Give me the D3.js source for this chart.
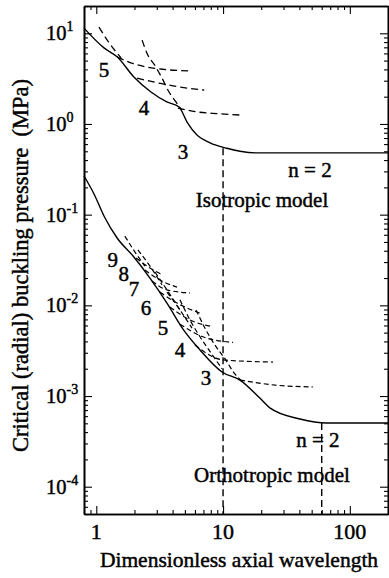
<!DOCTYPE html>
<html>
<head>
<meta charset="utf-8">
<script src="https://cdn.jsdelivr.net/npm/d3@7"></script>
<style>
  body { margin: 0; background: #fff; }
  text { font-family: "Liberation Serif", "Times New Roman", serif; fill: #000; stroke: #000; stroke-width: 0.45px; }
</style>
</head>
<body>
<svg id="chart"></svg>
<script>
// axis ticks
const xMajor = [1, 10, 100];
const yExponents = [1, 0, -1, -2, -3, -4];

// isotropic model: lower envelope (solid) and single-mode branches (dashed)
const isoEnvelope = [[0.8, 11.4], [1.15, 6.9], [1.46, 5.5], [1.98, 3.3], [2.7, 2.25], [3.6, 1.75],
  [4.5, 1.54], [5.2, 1.05], [6.2, 0.76], [7.9, 0.62], [10.7, 0.54], [13.6, 0.5], [18.5, 0.48], [200, 0.48]];
const isoBranches = [
  [[1.05, 11.7], [1.25, 8.0], [1.57, 5.35]],
  [[1.46, 5.5], [1.9, 4.7], [2.9, 4.1], [5.4, 3.85]],
  [[2.3, 8.4], [2.5, 6.1], [2.95, 4.25], [3.3, 3.2], [3.75, 2.25], [4.25, 1.75], [4.7, 1.43]],
  [[2.1, 3.2], [3.2, 2.8], [4.6, 2.55], [7.1, 2.37]],
  [[4.4, 1.5], [6.2, 1.36], [9, 1.3], [14.3, 1.25]]
];

// orthotropic model
const orthoEnvelope = [[0.8, 0.267], [0.96, 0.169], [1.15, 0.0967], [1.46, 0.0553], [1.95, 0.035],
  [2.65, 0.02], [3.61, 0.0106], [4.83, 0.00548], [6.58, 0.00322], [9.81, 0.00184], [13.6, 0.0015],
  [19.5, 0.00095], [23.4, 0.00074], [40.4, 0.000558], [66, 0.000504], [200, 0.000504]];
const orthoBranches = [
  [[2.06, 0.0333], [2.65, 0.0258], [3.36, 0.0216]],
  [[2.42, 0.0245], [3.18, 0.019], [4.33, 0.0159]],
  [[2.75, 0.0186], [3.61, 0.0148], [5.48, 0.0137]],
  [[3.18, 0.014], [4.33, 0.0106], [6.58, 0.0082]],
  [[3.81, 0.0096], [5.48, 0.0069], [8.33, 0.0058]],
  [[4.57, 0.0062], [6.94, 0.0045], [12, 0.0039]],
  [[6.0, 0.00365], [10, 0.0025], [24.8, 0.00237]],
  [[13.6, 0.0015], [25.7, 0.00132], [51, 0.00126]],
  [[6.12, 0.0089], [7.2, 0.0056], [8.63, 0.00365], [10.5, 0.0025], [12.2, 0.0018], [14.1, 0.00146]],
  [[4.57, 0.0115], [5.48, 0.0069], [6.58, 0.0045], [7.88, 0.0031], [9.81, 0.002]],
  [[1.68, 0.058], [2.02, 0.0387], [2.42, 0.0271]],
  [[2.13, 0.0408], [2.65, 0.0271], [3.3, 0.0168]],
  [[2.9, 0.0233], [3.61, 0.0148], [4.57, 0.0089]],
  [[3.61, 0.014], [4.57, 0.0089], [5.69, 0.0056]]
];

// vertical reference wavelengths: [x, upper end]
const refLines = [[10, 0.54], [60, 0.000504]];

// annotations: [text, x, y]
const labels = [
  ["5", 1.15, 3.94], ["4", 2.38, 1.5], ["3", 4.83, 0.49], ["n = 2", 48.5, 0.31],
  ["Isotropic model", 20.3, 0.145],
  ["9", 1.35, 0.0316], ["8", 1.65, 0.0222], ["7", 1.98, 0.0151], ["6", 2.47, 0.00935],
  ["5", 3.36, 0.00562], ["4", 4.57, 0.00322], ["3", 7.33, 0.00158], ["n = 2", 56, 0.000327],
  ["Orthotropic model", 24.3, 0.000135]
];

const W = 389, H = 578;
const margin = {top: 6, right: 1, bottom: 64, left: 84};
const width = W - margin.left - margin.right;
const height = H - margin.top - margin.bottom;

const x = d3.scaleLog().domain([0.8, 200]).range([0, width]);
const y = d3.scaleLog().domain([5e-5, 20]).range([height, 0]);

const svg = d3.select("#chart").attr("width", W).attr("height", H);
const g = svg.append("g").attr("transform", "translate(" + margin.left + "," + margin.top + ")");

const xMinor = x.ticks().filter(v => xMajor.indexOf(v) < 0);
const yMinor = y.ticks().filter(v => Math.abs(Math.log10(v) - Math.round(Math.log10(v))) > 1e-6);
const yMajor = yExponents.map(e => Math.pow(10, e));

function styleAxis(sel) {
  sel.select(".domain").attr("stroke", "#000").attr("stroke-width", 1.6);
  sel.selectAll(".tick line").attr("stroke", "#000").attr("stroke-width", 1.1);
}

// ticks on all four sides, pointing inward
const axes = [
  [d3.axisBottom(x), "translate(0," + height + ")", xMinor, xMajor],
  [d3.axisTop(x), null, xMinor, xMajor],
  [d3.axisLeft(y), null, yMinor, yMajor],
  [d3.axisRight(y), "translate(" + width + ",0)", yMinor, yMajor]
];
axes.forEach(([ax, tr, minor, major]) => {
  const a1 = g.append("g").call(ax.tickValues(minor).tickSizeInner(-4).tickSizeOuter(0).tickFormat(""));
  if (tr) a1.attr("transform", tr);
  styleAxis(a1);
  const a2 = g.append("g").call(ax.tickValues(major).tickSizeInner(-8).tickSizeOuter(0).tickFormat(""));
  if (tr) a2.attr("transform", tr);
  styleAxis(a2);
});

// x tick labels
g.selectAll(".xlab")
  .data(xMajor)
  .enter().append("text")
  .attr("x", d => x(d))
  .attr("y", height + 25)
  .attr("text-anchor", "middle")
  .style("font-size", "22px")
  .text(d => d);

// y tick labels as powers of ten
const ylab = g.selectAll(".ylab")
  .data(yExponents)
  .enter().append("text")
  .attr("x", -38)
  .attr("y", d => y(Math.pow(10, d)) + 7)
  .style("font-size", "20.5px");
ylab.append("tspan").text("10");
ylab.append("tspan").attr("dy", -9).style("font-size", "14px").text(d => d < 0 ? "-" + (-d) : d);

const line = d3.line().x(d => x(d[0])).y(d => y(d[1])).curve(d3.curveMonotoneX);

const plot = g.append("g");

plot.append("path").datum(isoEnvelope).attr("d", line)
  .attr("fill", "none").attr("stroke", "#000").attr("stroke-width", 1.4);
plot.append("path").datum(orthoEnvelope).attr("d", line)
  .attr("fill", "none").attr("stroke", "#000").attr("stroke-width", 1.4);

plot.selectAll(".iso")
  .data(isoBranches)
  .enter().append("path")
  .attr("d", line)
  .attr("fill", "none").attr("stroke", "#000").attr("stroke-width", 1.3)
  .attr("stroke-dasharray", "7,4");

plot.selectAll(".ortho")
  .data(orthoBranches)
  .enter().append("path")
  .attr("d", line)
  .attr("fill", "none").attr("stroke", "#000").attr("stroke-width", 1.2)
  .attr("stroke-dasharray", "5,3");

plot.selectAll(".ref")
  .data(refLines)
  .enter().append("line")
  .attr("x1", d => x(d[0])).attr("x2", d => x(d[0]))
  .attr("y1", d => y(d[1])).attr("y2", height)
  .attr("stroke", "#000").attr("stroke-width", 1.4)
  .attr("stroke-dasharray", "7,4");

g.selectAll(".note")
  .data(labels)
  .enter().append("text")
  .attr("x", d => x(d[1]))
  .attr("y", d => y(d[2]))
  .attr("text-anchor", "middle")
  .attr("dominant-baseline", "central")
  .style("font-size", "21px")
  .text(d => d[0]);

// axis titles
svg.append("text")
  .attr("x", 239).attr("y", 567)
  .attr("text-anchor", "middle")
  .style("font-size", "21.5px")
  .text("Dimensionless axial wavelength");

svg.append("text")
  .attr("transform", "translate(20,452) rotate(-90)")
  .attr("text-anchor", "start")
  .attr("dominant-baseline", "central")
  .style("font-size", "22.5px")
  .style("white-space", "pre")
  .text("Critical (radial) buckling pressure\u00a0\u00a0(MPa)");
</script>
</body>
</html>
